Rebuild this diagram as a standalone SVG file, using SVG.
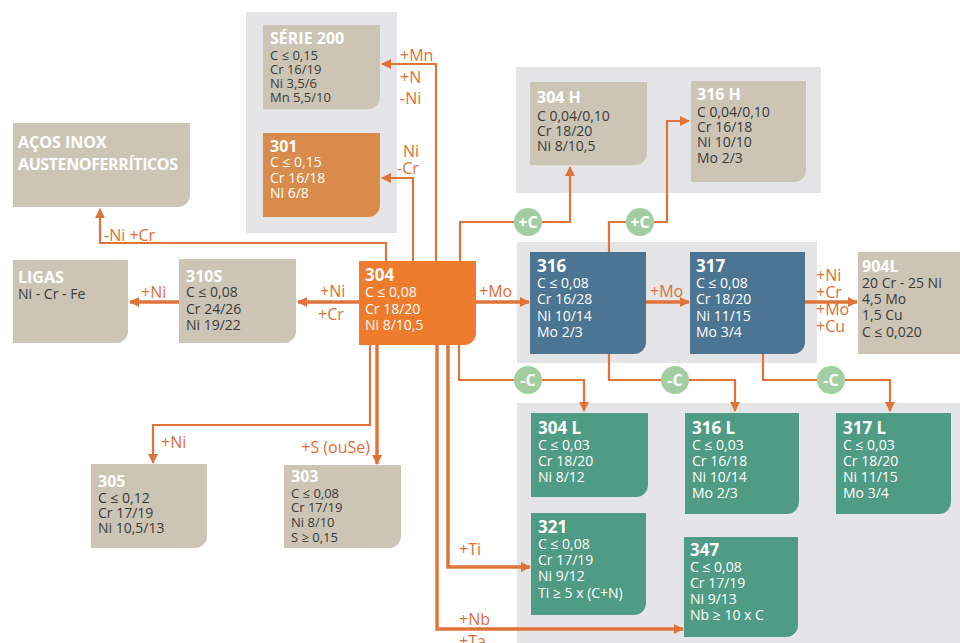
<svg xmlns="http://www.w3.org/2000/svg" width="960" height="643" viewBox="0 0 960 643">
<style>
text{font-family:"Open Sans","Noto Sans","Liberation Sans",sans-serif}
.panel{fill:#e5e5e7}
.tan{fill:#ccc5b6}
.o301{fill:#d98b4b}
.o304{fill:#ef7b2d}
.blue{fill:#4b7593}
.green{fill:#509b83}
.t{font-weight:bold;font-size:16px;fill:#fff}
.b{font-size:14px;fill:#3a3a3a}
.w{font-size:14px;fill:#fff}
.s{font-size:13px;fill:#3a3a3a}
.lab{font-size:16px;fill:#d9703a}
.cl{fill:none;stroke:#df743a;stroke-width:2.2}
.th{stroke-width:3.4}
.circ{fill:#a3cda3}
.ct{font-size:16px;font-weight:bold;fill:#fff;text-anchor:middle}
</style>
<defs>
<marker id="ah" viewBox="0 0 10 10" refX="9" refY="5" markerWidth="10" markerHeight="10" markerUnits="userSpaceOnUse" orient="auto">
<path d="M0,0 L10,5 L0,10 z" fill="#df743a"/>
</marker>
</defs>
<rect width="960" height="643" fill="#fff"/>
<g id="panels">
<rect class="panel" x="246" y="12" width="151" height="221"/>
<rect class="panel" x="516" y="67" width="305" height="126"/>
<rect class="panel" x="517" y="242" width="300" height="121"/>
<rect class="panel" x="517" y="403" width="443" height="240"/>
</g>
<g id="connectors">
<path class="cl" d="M386 261 V243 H100 V209" marker-end="url(#ah)"/>
<path class="cl" d="M413 261 V178 H382" marker-end="url(#ah)"/>
<path class="cl" d="M436 261 V64 H382" marker-end="url(#ah)"/>
<path class="cl" d="M460 261 V222 H570 V167" marker-end="url(#ah)"/>
<path class="cl" d="M609 252 V222 H667 V121 H689" marker-end="url(#ah)"/>
<path class="cl th" d="M359 302 H298" marker-end="url(#ah)"/>
<path class="cl th" d="M179 302 H130" marker-end="url(#ah)"/>
<path class="cl th" d="M476 302 H529" marker-end="url(#ah)"/>
<path class="cl th" d="M646 302 H689" marker-end="url(#ah)"/>
<path class="cl th" d="M805 302 H857" marker-end="url(#ah)"/>
<path class="cl" d="M370 345 V425 H153 V463" marker-end="url(#ah)"/>
<path class="cl th" d="M377 345 V464" marker-end="url(#ah)"/>
<path class="cl th" d="M437 345 V629 H683" marker-end="url(#ah)"/>
<path class="cl th" d="M448 345 V567 H530" marker-end="url(#ah)"/>
<path class="cl" d="M459 345 V380 H584 V411" marker-end="url(#ah)"/>
<path class="cl" d="M609 354 V380 H735 V411" marker-end="url(#ah)"/>
<path class="cl" d="M763 354 V380 H890 V411" marker-end="url(#ah)"/>
</g>
<g id="labels">
<text class="lab" x="400" y="61">+Mn</text>
<text class="lab" x="400" y="83">+N</text>
<text class="lab" x="400" y="104">-Ni</text>
<text class="lab" x="403" y="157">Ni</text>
<text class="lab" x="397" y="174">-Cr</text>
<text class="lab" x="104" y="241">-Ni  +Cr</text>
<text class="lab" x="320" y="297">+Ni</text>
<text class="lab" x="318" y="320">+Cr</text>
<text class="lab" x="141" y="298">+Ni</text>
<text class="lab" x="479" y="297">+Mo</text>
<text class="lab" x="650" y="297">+Mo</text>
<text class="lab" x="816" y="281">+Ni</text>
<text class="lab" x="816" y="298">+Cr</text>
<text class="lab" x="816" y="315">+Mo</text>
<text class="lab" x="816" y="332">+Cu</text>
<text class="lab" x="161" y="448">+Ni</text>
<text class="lab" x="370" y="453" text-anchor="end">+S (ouSe)</text>
<text class="lab" x="459" y="555">+Ti</text>
<text class="lab" x="459" y="625">+Nb</text>
<text class="lab" x="459" y="647">+Ta</text>
</g>
<g id="circles">
<circle class="circ" cx="528" cy="222" r="14"/><text class="ct" x="528" y="228">+C</text>
<circle class="circ" cx="640" cy="222" r="14"/><text class="ct" x="640" y="228">+C</text>
<circle class="circ" cx="528" cy="380" r="14"/><text class="ct" x="528" y="386">-C</text>
<circle class="circ" cx="675" cy="380" r="14"/><text class="ct" x="675" y="386">-C</text>
<circle class="circ" cx="831" cy="380" r="14"/><text class="ct" x="831" y="386">-C</text>
</g>
<g id="serie200">
<path class="tan" d="M263 25 H380 V97 A12 12 0 0 1 368 109 H263 Z"/>
<text class="t" x="270" y="44">SÉRIE 200</text>
<text class="s" x="270" y="60">C ≤ 0,15</text>
<text class="s" x="270" y="74">Cr 16/19</text>
<text class="s" x="270" y="88">Ni 3,5/6</text>
<text class="s" x="270" y="102">Mn 5,5/10</text>
</g>
<g id="n301">
<path class="o301" d="M263 133 H380 V205 A12 12 0 0 1 368 217 H263 Z"/>
<text class="t" x="270" y="152">301</text>
<text class="w" x="270" y="167">C ≤ 0,15</text>
<text class="w" x="270" y="183">Cr 16/18</text>
<text class="w" x="270" y="198">Ni 6/8</text>
</g>
<g id="acos">
<path class="tan" d="M13 123 H190 V195 A12 12 0 0 1 178 207 H13 Z"/>
<text class="t" x="18" y="148">AÇOS INOX</text>
<text class="t" x="18" y="170" textLength="160">AUSTENOFERRÍTICOS</text>
</g>
<g id="ligas">
<path class="tan" d="M13 260 H128 V331 A12 12 0 0 1 116 343 H13 Z"/>
<text class="t" x="18" y="283">LIGAS</text>
<text class="b" x="18" y="299">Ni - Cr - Fe</text>
</g>
<g id="n310s">
<path class="tan" d="M179 259 H296 V331 A12 12 0 0 1 284 343 H179 Z"/>
<text class="t" x="186" y="282">310S</text>
<text class="b" x="186" y="297">C ≤ 0,08</text>
<text class="b" x="186" y="314">Cr 24/26</text>
<text class="b" x="186" y="330">Ni 19/22</text>
</g>
<g id="n304">
<path class="o304" d="M359 261 H476 V333 A12 12 0 0 1 464 345 H359 Z"/>
<text class="t" x="365" y="281" style="font-size:17px">304</text>
<text class="w" x="365" y="297">C ≤ 0,08</text>
<text class="w" x="365" y="314">Cr 18/20</text>
<text class="w" x="365" y="330">Ni 8/10,5</text>
</g>
<g id="n304h">
<path class="tan" d="M530 82 H647 V153 A12 12 0 0 1 635 165 H530 Z"/>
<text class="t" x="537" y="103">304 H</text>
<text class="b" x="537" y="121">C  0,04/0,10</text>
<text class="b" x="537" y="136">Cr 18/20</text>
<text class="b" x="537" y="151">Ni 8/10,5</text>
</g>
<g id="n316h">
<path class="tan" d="M691 81 H806 V170 A12 12 0 0 1 794 182 H691 Z"/>
<text class="t" x="697" y="100">316 H</text>
<text class="b" x="697" y="117">C 0,04/0,10</text>
<text class="b" x="697" y="132">Cr 16/18</text>
<text class="b" x="697" y="147">Ni 10/10</text>
<text class="b" x="697" y="163">Mo 2/3</text>
</g>
<g id="n316">
<path class="blue" d="M530 252 H646 V342 A12 12 0 0 1 634 354 H530 Z"/>
<text class="t" x="537" y="272" style="font-size:17px">316</text>
<text class="w" x="537" y="288">C ≤ 0,08</text>
<text class="w" x="537" y="304">Cr 16/28</text>
<text class="w" x="537" y="321">Ni 10/14</text>
<text class="w" x="537" y="337">Mo 2/3</text>
</g>
<g id="n317">
<path class="blue" d="M690 252 H805 V342 A12 12 0 0 1 793 354 H690 Z"/>
<text class="t" x="696" y="272" style="font-size:17px">317</text>
<text class="w" x="696" y="288">C ≤ 0,08</text>
<text class="w" x="696" y="304">Cr 18/20</text>
<text class="w" x="696" y="321">Ni 11/15</text>
<text class="w" x="696" y="337">Mo 3/4</text>
</g>
<g id="n904l">
<rect class="tan" x="858" y="252" width="102" height="102"/>
<text class="t" x="862" y="272">904L</text>
<text class="b" x="862" y="288">20 Cr - 25 Ni</text>
<text class="b" x="862" y="304">4,5 Mo</text>
<text class="b" x="862" y="320">1,5 Cu</text>
<text class="b" x="862" y="337">C ≤ 0,020</text>
</g>
<g id="n304l">
<path class="green" d="M531 413 H648 V485 A12 12 0 0 1 636 497 H531 Z"/>
<text class="t" x="538" y="434" style="font-size:17px">304 L</text>
<text class="w" x="538" y="450">C ≤ 0,03</text>
<text class="w" x="538" y="466">Cr 18/20</text>
<text class="w" x="538" y="482">Ni 8/12</text>
</g>
<g id="n316l">
<path class="green" d="M685 413 H799 V502 A12 12 0 0 1 787 514 H685 Z"/>
<text class="t" x="692" y="434" style="font-size:17px">316 L</text>
<text class="w" x="692" y="450">C ≤ 0,03</text>
<text class="w" x="692" y="466">Cr 16/18</text>
<text class="w" x="692" y="482">Ni 10/14</text>
<text class="w" x="692" y="498">Mo 2/3</text>
</g>
<g id="n317l">
<path class="green" d="M836 413 H951 V502 A12 12 0 0 1 939 514 H836 Z"/>
<text class="t" x="843" y="434" style="font-size:17px">317 L</text>
<text class="w" x="843" y="450">C ≤ 0,03</text>
<text class="w" x="843" y="466">Cr 18/20</text>
<text class="w" x="843" y="482">Ni 11/15</text>
<text class="w" x="843" y="498">Mo 3/4</text>
</g>
<g id="n321">
<path class="green" d="M531 513 H646 V603 A12 12 0 0 1 634 615 H531 Z"/>
<text class="t" x="538" y="533" style="font-size:17px">321</text>
<text class="w" x="538" y="549">C ≤ 0,08</text>
<text class="w" x="538" y="565">Cr 17/19</text>
<text class="w" x="538" y="581">Ni 9/12</text>
<text class="w" x="538" y="598">Ti ≥ 5 x (C+N)</text>
</g>
<g id="n347">
<path class="green" d="M684 537 H798 V625 A12 12 0 0 1 786 637 H684 Z"/>
<text class="t" x="690" y="556" style="font-size:17px">347</text>
<text class="w" x="690" y="572">C ≤ 0,08</text>
<text class="w" x="690" y="588">Cr 17/19</text>
<text class="w" x="690" y="604">Ni 9/13</text>
<text class="w" x="690" y="620">Nb ≥ 10 x C</text>
</g>
<g id="n305">
<path class="tan" d="M91 464 H207 V536 A12 12 0 0 1 195 548 H91 Z"/>
<text class="t" x="98" y="487">305</text>
<text class="b" x="98" y="503">C ≤ 0,12</text>
<text class="b" x="98" y="518">Cr 17/19</text>
<text class="b" x="98" y="533">Ni 10,5/13</text>
</g>
<g id="n303">
<path class="tan" d="M284 465 H401 V536 A12 12 0 0 1 389 548 H284 Z"/>
<text class="t" x="291" y="482">303</text>
<text class="s" x="291" y="498">C ≤ 0,08</text>
<text class="s" x="291" y="512">Cr 17/19</text>
<text class="s" x="291" y="527">Ni 8/10</text>
<text class="s" x="291" y="542">S ≥ 0,15</text>
</g>
</svg>
